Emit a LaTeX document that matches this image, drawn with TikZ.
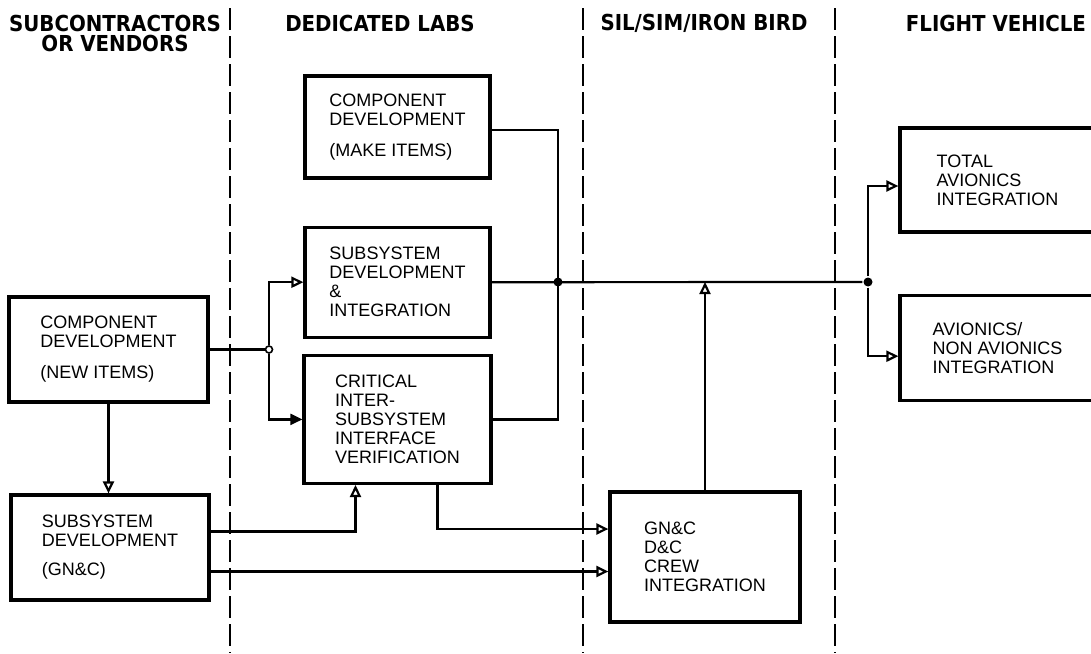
\documentclass[tikz,border=0pt]{standalone}
\usepackage{fontspec}
\setmainfont{Liberation Sans}
\newfontfamily\condfont{DejaVu Sans Condensed}
\usetikzlibrary{arrows.meta,positioning}
\newcommand{\hdr}{\condfont\bfseries\fontsize{11}{10}\selectfont}
\newcommand{\lbl}{\fontsize{9}{9.5}\selectfont}
\tikzset{
  flow/.style={line width=1.1pt,>={Triangle[open,length=6pt,width=5.5pt]}},
  blk/.style={draw,line width=1.6pt,fill=white,align=left,font=\lbl,inner sep=2pt},
  hdr/.style={font=\hdr,align=center},
  sep/.style={line width=1.4pt,dash pattern=on 11pt off 3pt},
  dot/.style={circle,fill,inner sep=0pt,minimum size=4.5pt},
  odot/.style={circle,draw,fill=white,line width=0.8pt,inner sep=0pt,minimum size=3.5pt},
}

\begin{document}
\begin{tikzpicture}[flow,x=0.5pt,y=-0.5pt]
\useasboundingbox[fill=white] (0,0) rectangle (1091,653);
\foreach \x in {230,583,835} \draw[sep] (\x,8) -- (\x,653);
\node[hdr] (hsub) at (115,33) {SUBCONTRACTORS\\OR VENDORS};
\node[hdr] (hlab) at (380,23) {DEDICATED LABS};
\node[hdr] (hsil) at (704,23) {SIL/SIM/IRON BIRD};
\node[hdr] (hfv) at (996,23) {FLIGHT VEHICLE};
\node[blk,minimum width=99.5pt,minimum height=52.5pt] (newc) at (108.5,349.5)
  {COMPONENT\\DEVELOPMENT\\[6pt](NEW ITEMS)};
\node[blk,minimum width=99pt,minimum height=52.5pt] (gnc) at (110,547.5)
  {SUBSYSTEM\\DEVELOPMENT\\[5pt](GN\&C)};
\node[blk,minimum width=92.5pt,minimum height=51pt] (make) at (397.5,127)
  {COMPONENT\\DEVELOPMENT\\[6pt](MAKE ITEMS)};
\node[blk,minimum width=92.5pt,minimum height=55pt,below=23pt of make] (ssdi)
  {SUBSYSTEM\\DEVELOPMENT\\\&\\INTEGRATION};
\node[blk,minimum width=93.5pt,minimum height=64pt,below=7.5pt of ssdi] (crit)
  {CRITICAL\\INTER-\\SUBSYSTEM\\INTERFACE\\VERIFICATION};
\node[blk,minimum width=95pt,minimum height=65pt] (crew) at (705,557)
  {GN\&C\\D\&C\\CREW\\INTEGRATION};
\node[blk,minimum width=97.5pt,minimum height=52pt] (total) at (997.5,180)
  {TOTAL\\AVIONICS\\INTEGRATION};
\node[blk,minimum width=97.5pt,minimum height=52.5pt,below=30pt of total] (avnon)
  {AVIONICS/\\NON AVIONICS\\INTEGRATION};
\node[odot] (j1) at (269,349.5) {};
\node[dot] (j2) at (558,282) {};
\node[dot] (j3) at (868,282) {};
\draw (newc.east) -- (j1);
\draw[->] (j1) |- (ssdi.west);
\draw[-{Triangle[length=6pt,width=5.5pt]}] (j1) |- (crit.west);
\draw[->] (newc.south) -- (newc.south |- gnc.north);
\draw[->] ([yshift=8pt]gnc.east) -| ([xshift=-21pt]crit.south);
\draw[->] ([yshift=-12pt]gnc.east) -- ([yshift=-12pt]gnc.east -| crew.west);
\draw[->] ([xshift=20pt]crit.south) |- ([yshift=14pt]crew.west);
\draw ([yshift=-1.5pt]make.east) -| (crit.east -| j2) -- (crit.east);
\draw (ssdi.east) -- (j3);
\draw[->] (crew.north) -- (crew.north |- j3);
\draw[->] (j3) |- ([yshift=-3pt]total.west);
\draw[->] (j3) |- ([yshift=-4.25pt]avnon.west);
\end{tikzpicture}
\end{document}
